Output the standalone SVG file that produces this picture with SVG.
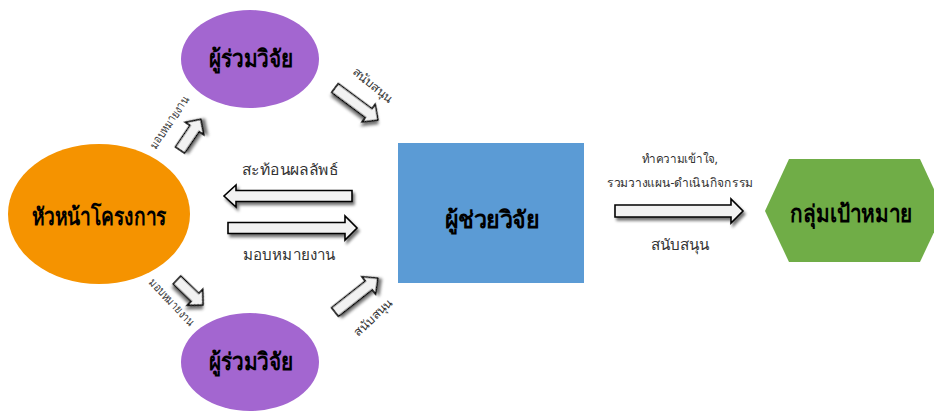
<svg xmlns="http://www.w3.org/2000/svg" width="934" height="412" viewBox="0 0 934 412">
<defs>
<filter id="sh" x="-30%" y="-30%" width="160%" height="180%">
<feGaussianBlur in="SourceAlpha" stdDeviation="1.6"/>
<feOffset dx="2" dy="3" result="b"/>
<feComponentTransfer><feFuncA type="linear" slope="0.55"/></feComponentTransfer>
<feMerge><feMergeNode/><feMergeNode in="SourceGraphic"/></feMerge>
</filter>
</defs>
<style>
.t{font-family:"Noto Sans","DejaVu Sans",sans-serif;fill:#000;text-anchor:middle}
.big{font-size:24px;font-weight:bold}
.mid{font-size:15px;fill:#333}
.sm{font-size:12.5px;fill:#333}
.xs{font-size:12px;fill:#333}
.arr{fill:#f2f2f2;stroke:#000;stroke-width:1.6;stroke-linejoin:miter;filter:url(#sh)}
</style>
<rect width="934" height="412" fill="#fff"/>

<g id="leader">
<ellipse cx="99" cy="214" rx="91" ry="70" fill="#f59300"/>
<text class="t big" x="99" y="225" textLength="135" lengthAdjust="spacingAndGlyphs">หัวหน้าโครงการ</text>
</g>
<g id="coresearcher-top">
<ellipse cx="250" cy="59" rx="69" ry="49" fill="#a366d0"/>
<text class="t big" x="251" y="67" textLength="84" lengthAdjust="spacingAndGlyphs">ผู้ร่วมวิจัย</text>
</g>
<g id="coresearcher-bottom">
<ellipse cx="250" cy="362" rx="69" ry="49" fill="#a366d0"/>
<text class="t big" x="251" y="370" textLength="84" lengthAdjust="spacingAndGlyphs">ผู้ร่วมวิจัย</text>
</g>
<g id="assistant">
<rect x="398" y="143" width="186" height="140" fill="#5b9bd5"/>
<text class="t big" x="492" y="228" textLength="95" lengthAdjust="spacingAndGlyphs">ผู้ช่วยวิจัย</text>
</g>
<g id="target">
<polygon points="765,211 789,159 920,159 944,211 920,262 789,262" fill="#70ad47"/>
<text class="t big" x="851" y="222" textLength="122" lengthAdjust="spacingAndGlyphs">กลุ่มเป้าหมาย</text>
</g>

<g id="connectors">
<path class="arr" d="M352,190.5 H236 V185 L224,196 L236,207 V201.5 H352 Z"/>
<path class="arr" d="M228,222.5 H345 V216 L357,228 L345,240 V233.5 H228 Z"/>
<path class="arr" d="M615,205 H731 V199 L743,211 L731,223 V217 H615 Z"/>
<path class="arr" transform="translate(180,150) rotate(-55.9)" d="M0,-5.5 H26 V-11 L37,0 L26,11 V5.5 H0 Z"/>
<path class="arr" transform="translate(335,88) rotate(36.7)" d="M0,-5.5 H42 V-11 L53.5,0 L42,11 V5.5 H0 Z"/>
<path class="arr" transform="translate(177,280) rotate(43.9)" d="M0,-5.5 H25 V-11 L36,0 L25,11 V5.5 H0 Z"/>
<path class="arr" transform="translate(335,312) rotate(-38.3)" d="M0,-5.5 H43 V-11 L54.5,0 L43,11 V5.5 H0 Z"/>

<text class="t mid" x="290" y="175" textLength="96" lengthAdjust="spacingAndGlyphs">สะท้อนผลลัพธ์</text>
<text class="t mid" x="289" y="260" textLength="92" lengthAdjust="spacingAndGlyphs">มอบหมายงาน</text>
<text class="t sm" x="680" y="163" textLength="76" lengthAdjust="spacingAndGlyphs">ทำความเข้าใจ,</text>
<text class="t sm" x="680" y="187" textLength="146" lengthAdjust="spacingAndGlyphs">รวมวางแผน-ดำเนินกิจกรรม</text>
<text class="t mid" x="680" y="250" textLength="59" lengthAdjust="spacingAndGlyphs">สนับสนุน</text>
<text class="t xs" transform="translate(170,123) rotate(-56)" x="0" y="3" textLength="60" lengthAdjust="spacingAndGlyphs">มอบหมายงาน</text>
<text class="t xs" transform="translate(372,86) rotate(40)" x="0" y="3" textLength="48" lengthAdjust="spacingAndGlyphs">สนับสนุน</text>
<text class="t xs" transform="translate(171,303) rotate(47)" x="0" y="3" textLength="60" lengthAdjust="spacingAndGlyphs">มอบหมายงาน</text>
<text class="t xs" transform="translate(374,318) rotate(-43)" x="0" y="3" textLength="48" lengthAdjust="spacingAndGlyphs">สนับสนุน</text>
</g>
</svg>
